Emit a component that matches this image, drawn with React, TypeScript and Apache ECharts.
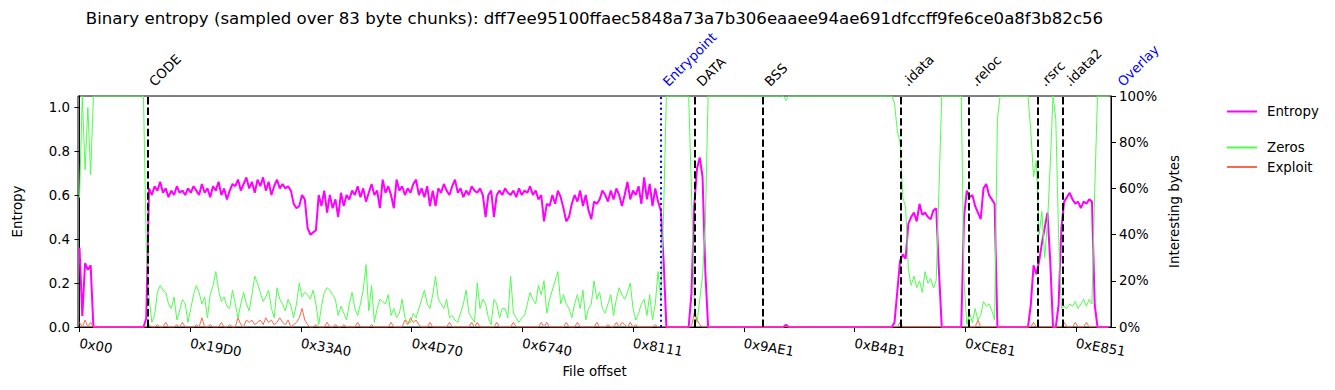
import React, { useEffect, useRef } from 'react';
import * as echarts from 'echarts';

const FONT = 'DejaVu Sans';
const TITLE = 'Binary entropy (sampled over 83 byte chunks): dff7ee95100ffaec5848a73a7b306eaaee94ae691dfccff9fe6ce0a8f3b82c56';
const CHUNK_SIZE = 83;
const SAMPLE_STEP = 2; // chunks per plotted sample
const X_MIN = -90;
const X_MAX = 61560;
const TICK_LABELS = ['0x00', '0x19D0', '0x33A0', '0x4D70', '0x6740', '0x8111', '0x9AE1', '0xB4B1', '0xCE81', '0xE851'];
const TICK_OFFSETS = TICK_LABELS.map((s) => parseInt(s, 16));
const LEFT_TICKS = [0, 0.2, 0.4, 0.6, 0.8, 1.0];
const RIGHT_TICKS = [0, 20, 40, 60, 80, 100];

const SECTION_NAMES = ['CODE', 'Entrypoint', 'DATA', 'BSS', '.idata', '.reloc', '.rsrc', '.idata2', 'Overlay'];
const SECTION_OFFSETS = [4060, 34716, 36743, 40800, 49016, 53089, 57205, 58678, 61860];
const SECTION_KINDS = ['section', 'entry', 'section', 'section', 'section', 'section', 'section', 'section', 'overlay'];

// entropy per sample (0..1)
const ENTROPY = [
  0.36, 0.05, 0.29, 0.26, 0.28, 0, 0, 0, 0, 0,
  0, 0, 0, 0, 0, 0, 0, 0, 0, 0,
  0, 0, 0, 0, 0.04, 0.63, 0.6, 0.64, 0.62, 0.66,
  0.61, 0.63, 0.59, 0.62, 0.6, 0.64, 0.61, 0.62, 0.6, 0.63,
  0.61, 0.64, 0.62, 0.6, 0.65, 0.61, 0.63, 0.59, 0.64, 0.62,
  0.66, 0.6, 0.63, 0.58, 0.62, 0.65, 0.64, 0.67, 0.62, 0.65,
  0.68, 0.63, 0.66, 0.61, 0.67, 0.64, 0.68, 0.62, 0.66, 0.6,
  0.64, 0.67, 0.63, 0.65, 0.63, 0.64, 0.62, 0.56, 0.54, 0.55,
  0.6, 0.58, 0.45, 0.42, 0.43, 0.44, 0.6, 0.55, 0.62, 0.52,
  0.6, 0.54, 0.58, 0.5, 0.61, 0.55, 0.6, 0.58, 0.62, 0.6,
  0.64, 0.59, 0.63, 0.57, 0.61, 0.65, 0.6, 0.62, 0.54, 0.67,
  0.61, 0.64, 0.6, 0.54, 0.67, 0.62, 0.64, 0.6, 0.63, 0.61,
  0.65, 0.67, 0.6, 0.63, 0.59, 0.64, 0.55, 0.62, 0.55, 0.63,
  0.61, 0.65, 0.62, 0.6, 0.64, 0.67, 0.61, 0.63, 0.59, 0.62,
  0.6, 0.64, 0.62, 0.61, 0.63, 0.6, 0.5, 0.6, 0.62, 0.5,
  0.6, 0.62, 0.6, 0.63, 0.61, 0.6, 0.62, 0.59, 0.63, 0.6,
  0.62, 0.61, 0.64, 0.6, 0.62, 0.58, 0.6, 0.48, 0.56, 0.55,
  0.6, 0.56, 0.62, 0.59, 0.54, 0.48, 0.5, 0.56, 0.6, 0.57,
  0.62, 0.55, 0.6, 0.53, 0.49, 0.57, 0.56, 0.58, 0.62, 0.6,
  0.57, 0.62, 0.58, 0.63, 0.6, 0.55, 0.6, 0.66, 0.58, 0.62,
  0.6, 0.64, 0.56, 0.68, 0.58, 0.65, 0.55, 0.63, 0.57, 0.53,
  0.3, 0, 0, 0, 0, 0, 0, 0, 0, 0,
  0.15, 0.55, 0.72, 0.77, 0.68, 0.25, 0, 0, 0, 0,
  0, 0, 0, 0, 0, 0, 0, 0, 0, 0,
  0, 0, 0, 0, 0, 0, 0, 0, 0, 0,
  0, 0, 0, 0, 0.01, 0, 0, 0, 0, 0,
  0, 0, 0, 0, 0, 0, 0, 0, 0, 0,
  0, 0, 0, 0, 0, 0, 0, 0, 0, 0,
  0, 0, 0, 0, 0, 0, 0, 0, 0, 0,
  0, 0, 0, 0.02, 0.16, 0.3, 0.33, 0.31, 0.47, 0.5,
  0.52, 0.48, 0.56, 0.51, 0.52, 0.5, 0.49, 0.53, 0.54, 0.25,
  0, 0, 0, 0, 0, 0, 0, 0, 0.5, 0.62,
  0.59, 0.6, 0.55, 0.52, 0.49, 0.63, 0.65, 0.6, 0.58, 0.56,
  0, 0, 0, 0, 0, 0, 0, 0, 0, 0,
  0, 0, 0.1, 0.28, 0.24, 0.3, 0.38, 0.45, 0.52, 0.3,
  0, 0, 0.1, 0.45, 0.57, 0.59, 0.61, 0.58, 0.56, 0.57,
  0.54, 0.57, 0.56, 0.58, 0.57, 0.1, 0, 0, 0, 0,
  0,
];

// zero bytes per sample (%)
const ZEROS = [
  56, 100, 68, 95, 66, 100, 100, 100, 100, 100,
  100, 100, 100, 100, 100, 100, 100, 100, 100, 100,
  100, 100, 100, 100, 35, 13, 2, 5, 15, 18,
  16, 15, 10, 8, 13, 3, 7, 12, 10, 2,
  8, 14, 18, 15, 10, 13, 4, 14, 18, 24,
  16, 11, 13, 9, 8, 16, 10, 4, 10, 15,
  10, 7, 14, 22, 19, 15, 11, 13, 16, 8,
  4, 17, 12, 10, 7, 12, 9, 4, 10, 19,
  13, 15, 14, 12, 16, 10, 1, 9, 15, 17,
  16, 14, 12, 5, 9, 6, 3, 10, 15, 8,
  5, 10, 16, 27, 7, 18, 2, 8, 12, 11,
  10, 14, 5, 8, 4, 6, 12, 4, 2, 2,
  6, 4, 8, 12, 16, 10, 8, 14, 22, 12,
  10, 8, 12, 4, 5, 3, 2, 6, 10, 16,
  6, 4, 2, 19, 8, 12, 10, 4, 1, 12,
  10, 4, 8, 8, 4, 22, 6, 4, 2, 4,
  5, 10, 15, 12, 10, 18, 14, 20, 6, 12,
  16, 20, 24, 10, 14, 10, 8, 4, 10, 14,
  8, 16, 3, 8, 10, 20, 12, 15, 8, 6,
  10, 14, 5, 12, 17, 14, 12, 15, 19, 8,
  3, 6, 10, 12, 5, 14, 3, 10, 24, 12,
  50, 100, 100, 100, 100, 100, 100, 100, 100, 100,
  60, 10, 2, 12, 22, 45, 100, 100, 100, 100,
  100, 100, 100, 100, 100, 100, 100, 100, 100, 100,
  100, 100, 100, 100, 100, 100, 100, 100, 100, 100,
  100, 100, 100, 100, 98, 100, 100, 100, 100, 100,
  100, 100, 100, 100, 100, 100, 100, 100, 100, 100,
  100, 100, 100, 100, 100, 100, 100, 100, 100, 100,
  100, 100, 100, 100, 100, 100, 100, 100, 100, 100,
  100, 100, 100, 97, 85, 80, 56, 52, 25, 18,
  22, 17, 20, 15, 24, 19, 21, 17, 20, 60,
  100, 100, 100, 100, 100, 100, 100, 100, 20, 1,
  6, 2, 8, 3, 5, 11, 9, 10, 7, 3,
  90, 100, 100, 100, 100, 100, 100, 100, 100, 100,
  100, 100, 85, 65, 72, 40, 50, 30, 45, 70,
  100, 90, 40, 8, 9, 8, 10, 9, 11, 8,
  10, 12, 9, 12, 10, 60, 100, 100, 100, 100,
  100,
];

// exploit-like bytes per sample (%)
const EXPLOIT = [
  2, 0, 3, 0, 2, 0, 0, 0, 0, 0,
  0, 0, 0, 0, 0, 0, 0, 0, 0, 0,
  0, 0, 0, 0, 0, 1, 0, 0, 1, 0,
  0, 2, 0, 0, 0, 1, 0, 2, 0, 0,
  0, 0, 1, 0, 4, 0, 0, 1, 0, 0,
  0, 2, 0, 0, 1, 0, 0, 4, 1, 0,
  3, 2, 3, 1, 2, 3, 1, 4, 2, 3,
  1, 2, 4, 2, 1, 3, 0, 1, 2, 4,
  8, 3, 1, 0, 0, 1, 0, 0, 0, 2,
  0, 0, 1, 0, 0, 1, 0, 0, 0, 0,
  2, 0, 0, 0, 0, 1, 0, 0, 0, 0,
  0, 0, 2, 0, 0, 0, 0, 3, 1, 4,
  2, 3, 1, 0, 0, 0, 2, 0, 0, 0,
  0, 0, 0, 2, 0, 0, 0, 0, 0, 0,
  0, 2, 0, 2, 0, 0, 0, 0, 0, 0,
  2, 0, 0, 0, 0, 0, 2, 0, 0, 0,
  0, 0, 0, 0, 0, 0, 2, 0, 2, 0,
  0, 0, 0, 0, 0, 2, 0, 0, 0, 2,
  0, 0, 0, 0, 0, 0, 2, 0, 0, 0,
  1, 0, 0, 2, 0, 2, 1, 0, 2, 0,
  1, 0, 0, 0, 0, 0, 0, 1, 0, 0,
  0, 0, 0, 0, 0, 0, 0, 0, 0, 0,
  0, 6, 3, 1, 0, 0, 0, 0, 0, 0,
  0, 0, 0, 0, 0, 0, 0, 0, 0, 0,
  0, 0, 0, 0, 0, 0, 0, 0, 0, 0,
  0, 0, 0, 0, 0, 0, 0, 0, 0, 0,
  0, 0, 0, 0, 0, 0, 0, 0, 0, 0,
  0, 0, 0, 0, 0, 0, 0, 0, 0, 0,
  0, 0, 0, 0, 0, 0, 0, 0, 0, 0,
  0, 0, 0, 0, 0, 2, 0, 0, 0, 0,
  0, 0, 0, 0, 0, 0, 0, 0, 0, 0,
  0, 0, 0, 0, 0, 0, 0, 0, 0, 0,
  0, 0, 0, 3, 0, 0, 0, 0, 0, 0,
  0, 0, 0, 0, 0, 0, 0, 0, 0, 0,
  0, 0, 0, 2, 0, 0, 0, 0, 0, 0,
  0, 0, 0, 0, 2, 0, 0, 0, 2, 0,
  0, 0, 2, 0, 0, 0, 0, 0, 0, 0,
  0,
];

const toPoints = (arr: number[]) => arr.map((v, i) => [i * CHUNK_SIZE * SAMPLE_STEP, v]);

const FS = 13.33;
const BLACK = '#000000';
const BLUE = '#0000ff';

export default function App() {
  const ref = useRef<HTMLDivElement>(null);

  useEffect(() => {
    document.body.style.margin = '0';
    if (!ref.current) return;
    const chart = echarts.init(ref.current, undefined, { renderer: 'svg' });

    const tickLabelMap: Record<number, string> = {};
    TICK_OFFSETS.forEach((o, i) => { tickLabelMap[o] = TICK_LABELS[i]; });

    const markData = SECTION_NAMES.map((name, i) => ({ name, kind: SECTION_KINDS[i], off: SECTION_OFFSETS[i] }))
      .filter((s) => s.kind !== 'overlay')
      .map((s) => ({
        xAxis: s.off,
        lineStyle: s.kind === 'entry'
          ? { color: BLUE, type: [2, 3.3], width: 2 }
          : { color: BLACK, type: [7.4, 3.2], width: 2 },
      }));

    const baseAxisText = { fontFamily: FONT, fontSize: FS, color: BLACK };
    const legendCommon = {
      orient: 'vertical', left: 1226, padding: 0,
      itemWidth: 30, itemHeight: 14,
      itemStyle: { opacity: 0 },
      textStyle: { ...baseAxisText, padding: [0, 0, 0, 5] },
      selectedMode: false,
    };

    const option: any = {
      animation: false,
      textStyle: { fontFamily: FONT },
      grid: { left: 78, right: 224, top: 96, bottom: 63, show: true, borderColor: BLACK, borderWidth: 1, backgroundColor: 'transparent' },
      legend: [
        { ...legendCommon, data: [{ name: 'Entropy', itemStyle: { opacity: 0 } }], top: 105, itemGap: 6 },
        { ...legendCommon, data: [{ name: 'Zeros', itemStyle: { opacity: 0 } }, { name: 'Exploit', itemStyle: { opacity: 0 } }], top: 141, itemGap: 6.5 },
      ],
      xAxis: {
        type: 'value', min: X_MIN, max: X_MAX,
        name: 'File offset', nameLocation: 'middle', nameGap: 38,
        nameTextStyle: baseAxisText,
        axisLine: { show: true, lineStyle: { color: BLACK, width: 1 } },
        axisTick: { show: true, length: 5, customValues: TICK_OFFSETS, lineStyle: { color: BLACK } },
        axisLabel: {
          customValues: TICK_OFFSETS, rotate: -10, margin: 16,
          formatter: (v: number) => tickLabelMap[v] ?? '',
          ...baseAxisText,
        },
        splitLine: { show: false },
      },
      yAxis: [
        {
          type: 'value', min: 0, max: 1.05, position: 'left',
          name: 'Entropy', nameLocation: 'middle', nameGap: 54, nameTextStyle: baseAxisText,
          axisLine: { show: true, lineStyle: { color: BLACK } },
          axisTick: { show: true, length: 5, customValues: LEFT_TICKS, lineStyle: { color: BLACK } },
          axisLabel: { customValues: LEFT_TICKS, margin: 8, formatter: (v: number) => v.toFixed(1), ...baseAxisText },
          splitLine: { show: false },
        },
        {
          type: 'value', min: 0, max: 100, position: 'right',
          name: 'Interesting bytes', nameLocation: 'middle', nameGap: 54, nameTextStyle: baseAxisText,
          axisLine: { show: true, lineStyle: { color: BLACK } },
          axisTick: { show: true, length: 5, customValues: RIGHT_TICKS, lineStyle: { color: BLACK } },
          axisLabel: { customValues: RIGHT_TICKS, margin: 8, formatter: (v: number) => `${v}%`, ...baseAxisText },
          splitLine: { show: false },
        },
      ],
      series: [
        {
          name: 'Entropy', type: 'line', yAxisIndex: 0, data: toPoints(ENTROPY),
          showSymbol: false, symbol: 'none', color: '#ff00ff',
          lineStyle: { color: '#ff00ff', width: 2 }, z: 2,
        },
        {
          name: 'Zeros', type: 'line', yAxisIndex: 1, data: toPoints(ZEROS),
          showSymbol: false, symbol: 'none', color: '#4dff4d',
          lineStyle: { color: '#4dff4d', width: 1 }, z: 3,
        },
        {
          name: 'Exploit', type: 'line', yAxisIndex: 1, data: toPoints(EXPLOIT),
          showSymbol: false, symbol: 'none', color: '#f86a4a',
          lineStyle: { color: '#f86a4a', width: 1 }, z: 4,
          markLine: { silent: true, symbol: ['none', 'none'], label: { show: false }, data: markData, animation: false },
        },
      ],
    };

    chart.setOption(option);

    const plotRight = chart.convertToPixel({ xAxisIndex: 0 }, X_MAX) as number;
    const plotLeft = chart.convertToPixel({ xAxisIndex: 0 }, X_MIN) as number;
    const elements: any[] = [
      {
        type: 'text', x: (plotLeft + plotRight) / 2, y: 18, silent: true,
        style: { text: TITLE, fill: BLACK, fontFamily: FONT, fontSize: 16.6, align: 'center', verticalAlign: 'middle', textAlign: 'center', textVerticalAlign: 'middle' },
      },
    ];
    SECTION_NAMES.forEach((name, i) => {
      const px = chart.convertToPixel({ xAxisIndex: 0 }, SECTION_OFFSETS[i]) as number;
      const color = SECTION_KINDS[i] === 'section' ? BLACK : BLUE;
      elements.push({
        type: 'text', x: px + 4, y: 84, rotation: Math.PI / 4, silent: true,
        style: { text: name, fill: color, fontFamily: FONT, fontSize: FS, align: 'left', verticalAlign: 'middle', textAlign: 'left', textVerticalAlign: 'middle' },
      });
    });
    chart.setOption({ graphic: { elements } });

    return () => chart.dispose();
  }, []);

  return <div ref={ref} style={{ width: 1335, height: 390 }} />;
}
